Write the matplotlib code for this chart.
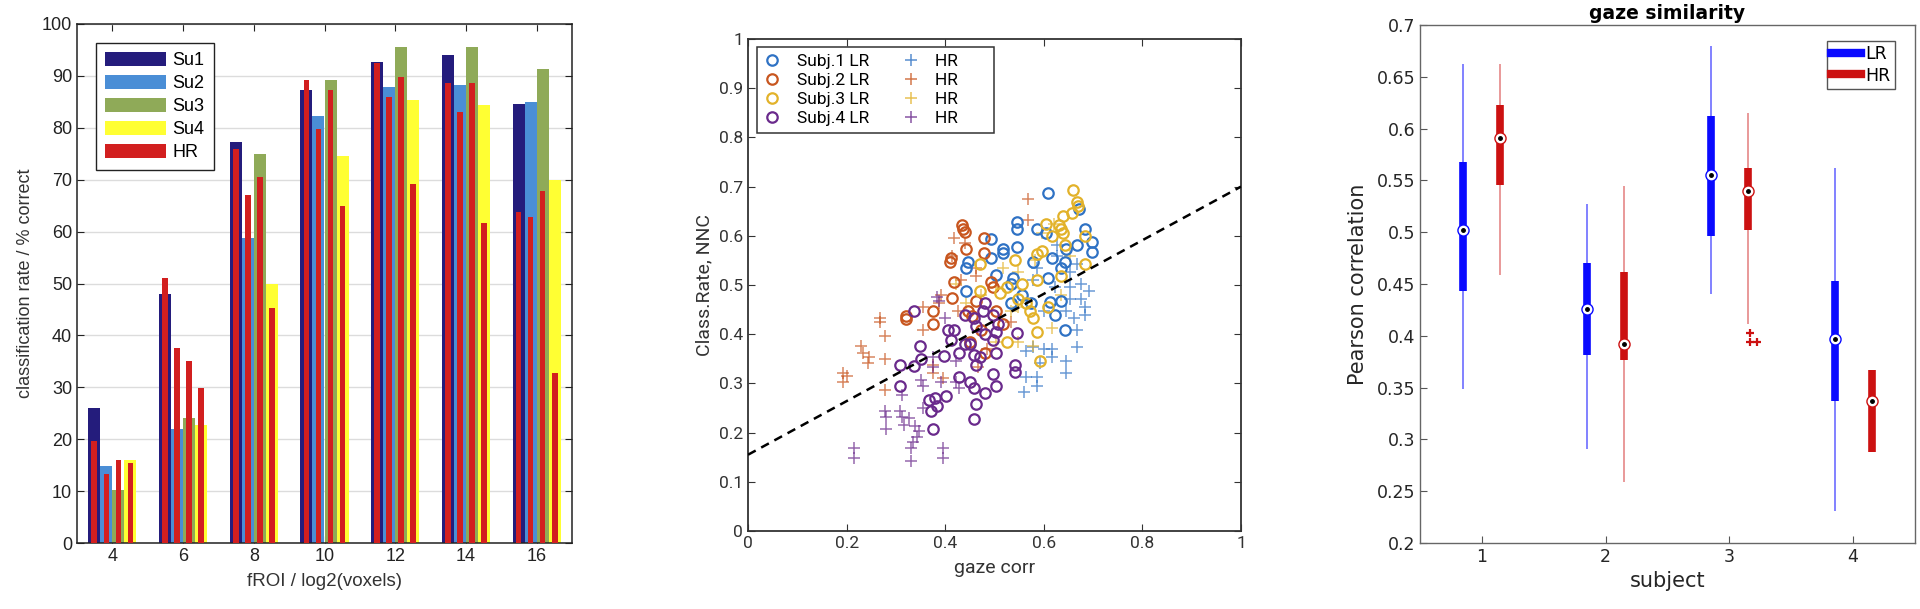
import matplotlib
matplotlib.use("Agg")
import matplotlib.pyplot as plt
import numpy as np
from matplotlib.patches import Patch
from matplotlib.lines import Line2D

# ---------------- data: left panel (bars) ----------------
froi = [4, 6, 8, 10, 12, 14, 16]
subjects = ["Su1", "Su2", "Su3", "Su4"]
su1_lr = [26.0, 48.0, 77.3, 87.2, 92.7, 94.1, 84.5]
su2_lr = [14.8, 22.0, 58.7, 82.2, 87.8, 88.3, 85.0]
su3_lr = [10.3, 24.0, 75.0, 89.2, 95.5, 95.6, 91.3]
su4_lr = [16.0, 22.7, 50.0, 74.6, 85.3, 84.3, 70.0]
su1_hr = [19.7, 51.0, 76.0, 89.3, 92.5, 88.7, 63.7]
su2_hr = [13.2, 37.5, 67.0, 79.8, 86.0, 83.0, 62.8]
su3_hr = [16.0, 35.0, 70.5, 87.3, 89.7, 88.6, 67.8]
su4_hr = [15.4, 29.8, 45.3, 65.0, 69.2, 61.6, 32.8]

# ---------------- data: middle panel (scatter) ----------------
s1_lr_x = [0.608, 0.545, 0.545, 0.586, 0.604, 0.683, 0.698, 0.698, 0.668, 0.671, 0.492, 0.518, 0.518,
           0.545, 0.447, 0.442, 0.443, 0.492, 0.503, 0.537, 0.533, 0.578, 0.616, 0.608, 0.634, 0.642,
           0.646, 0.612, 0.634, 0.623, 0.642, 0.575, 0.556, 0.533]
s1_lr_y = [0.687, 0.628, 0.614, 0.614, 0.606, 0.614, 0.588, 0.568, 0.582, 0.655, 0.594, 0.574, 0.566,
           0.578, 0.547, 0.535, 0.487, 0.554, 0.521, 0.515, 0.503, 0.547, 0.554, 0.515, 0.535, 0.547,
           0.574, 0.465, 0.468, 0.440, 0.408, 0.464, 0.479, 0.464]
s1_hr_x = [0.627, 0.627, 0.653, 0.668, 0.676, 0.691, 0.683, 0.683, 0.653, 0.646, 0.661, 0.668, 0.668,
           0.646, 0.646, 0.616, 0.616, 0.601, 0.593, 0.578, 0.563, 0.586, 0.563, 0.586, 0.560, 0.578,
           0.586, 0.623, 0.601, 0.653, 0.676]
s1_hr_y = [0.582, 0.558, 0.527, 0.543, 0.503, 0.487, 0.456, 0.440, 0.472, 0.448, 0.432, 0.408, 0.375,
           0.345, 0.322, 0.369, 0.353, 0.369, 0.341, 0.373, 0.365, 0.314, 0.314, 0.294, 0.282, 0.511,
           0.535, 0.495, 0.448, 0.495, 0.472]
s2_lr_x = [0.434, 0.437, 0.440, 0.478, 0.443, 0.478, 0.411, 0.410, 0.417, 0.413, 0.320, 0.320, 0.376,
           0.376, 0.462, 0.492, 0.496, 0.503, 0.518, 0.447, 0.455, 0.473, 0.481, 0.451]
s2_lr_y = [0.621, 0.614, 0.607, 0.596, 0.574, 0.566, 0.554, 0.547, 0.507, 0.473, 0.431, 0.436, 0.448,
           0.420, 0.468, 0.507, 0.495, 0.448, 0.420, 0.448, 0.436, 0.408, 0.361, 0.385]
s2_hr_x = [0.567, 0.567, 0.417, 0.440, 0.413, 0.432, 0.462, 0.462, 0.391, 0.387, 0.354, 0.267, 0.267,
           0.277, 0.230, 0.234, 0.246, 0.243, 0.277, 0.193, 0.200, 0.193, 0.277, 0.354, 0.376, 0.376,
           0.395, 0.425, 0.466, 0.484, 0.533]
s2_hr_y = [0.674, 0.633, 0.596, 0.586, 0.558, 0.511, 0.519, 0.535, 0.479, 0.464, 0.456, 0.432, 0.424,
           0.397, 0.377, 0.361, 0.353, 0.341, 0.349, 0.322, 0.315, 0.302, 0.286, 0.408, 0.338, 0.322,
           0.310, 0.448, 0.334, 0.369, 0.424]
s3_lr_x = [0.659, 0.668, 0.670, 0.657, 0.638, 0.604, 0.631, 0.634, 0.638, 0.642, 0.683, 0.683, 0.586,
           0.597, 0.541, 0.470, 0.470, 0.511, 0.556, 0.586, 0.526, 0.548, 0.571, 0.578, 0.586, 0.593,
           0.563, 0.608, 0.634, 0.526, 0.616]
s3_lr_y = [0.694, 0.669, 0.661, 0.647, 0.641, 0.623, 0.621, 0.614, 0.606, 0.582, 0.599, 0.543, 0.562,
           0.570, 0.550, 0.543, 0.487, 0.483, 0.503, 0.511, 0.495, 0.472, 0.448, 0.432, 0.405, 0.345,
           0.464, 0.456, 0.519, 0.385, 0.600]
s3_hr_x = [0.620, 0.597, 0.582, 0.548, 0.548, 0.533, 0.503, 0.421, 0.443, 0.473, 0.503, 0.616, 0.578,
           0.548, 0.634, 0.653, 0.518]
s3_hr_y = [0.625, 0.606, 0.550, 0.527, 0.456, 0.448, 0.385, 0.503, 0.464, 0.479, 0.495, 0.413, 0.377,
           0.385, 0.479, 0.558, 0.535]
s4_lr_x = [0.337, 0.348, 0.350, 0.309, 0.337, 0.309, 0.367, 0.380, 0.383, 0.372, 0.376, 0.402, 0.398,
           0.406, 0.417, 0.412, 0.440, 0.451, 0.428, 0.428, 0.451, 0.458, 0.462, 0.458, 0.481, 0.503,
           0.496, 0.462, 0.470, 0.458, 0.503, 0.496, 0.481, 0.440, 0.462, 0.477, 0.481, 0.496, 0.503,
           0.545, 0.541, 0.541, 0.458, 0.507]
s4_lr_y = [0.448, 0.377, 0.349, 0.338, 0.336, 0.294, 0.267, 0.270, 0.255, 0.243, 0.207, 0.274, 0.355,
           0.408, 0.408, 0.389, 0.381, 0.381, 0.361, 0.314, 0.302, 0.290, 0.259, 0.227, 0.281, 0.294,
           0.320, 0.338, 0.353, 0.357, 0.361, 0.389, 0.401, 0.440, 0.416, 0.448, 0.464, 0.440, 0.405,
           0.402, 0.338, 0.323, 0.432, 0.420]
s4_hr_x = [0.383, 0.387, 0.215, 0.215, 0.277, 0.280, 0.279, 0.309, 0.312, 0.327, 0.316, 0.339, 0.346,
           0.342, 0.335, 0.330, 0.331, 0.395, 0.395, 0.312, 0.350, 0.354, 0.376, 0.376, 0.391, 0.421,
           0.421, 0.354, 0.400, 0.428]
s4_hr_y = [0.476, 0.468, 0.168, 0.148, 0.244, 0.231, 0.207, 0.243, 0.231, 0.229, 0.216, 0.213, 0.203,
           0.192, 0.180, 0.168, 0.142, 0.168, 0.148, 0.276, 0.306, 0.294, 0.353, 0.334, 0.302, 0.345,
           0.302, 0.251, 0.432, 0.290]
fit_x = [0.0, 1.0]
fit_y = [0.155, 0.700]

# ---------------- data: right panel (compact boxplots) ----------------
subj_ids = [1, 2, 3, 4]
lr_wlo = [0.349, 0.291, 0.440, 0.231]
lr_q1 = [0.443, 0.381, 0.496, 0.337]
lr_med = [0.502, 0.426, 0.555, 0.397]
lr_q3 = [0.568, 0.470, 0.612, 0.453]
lr_whi = [0.662, 0.527, 0.680, 0.562]
hr_wlo = [0.459, 0.259, 0.411, 0.288]
hr_q1 = [0.546, 0.377, 0.502, 0.288]
hr_med = [0.591, 0.392, 0.540, 0.337]
hr_q3 = [0.623, 0.462, 0.562, 0.367]
hr_whi = [0.662, 0.545, 0.615, 0.367]
hr_out_x = [3.17, 3.17, 3.22]
hr_out_y = [0.403, 0.394, 0.394]

# ---------------- figure ----------------
fig = plt.figure(figsize=(19.2, 6.09), dpi=100)

# ===== left panel =====
axL = fig.add_axes([77/1920, 1-543/609, 495/1920, 519/609])
sub_cols = ["#241c7c", "#4a8ed6", "#8faa58", "#ffff33"]
hr_col = "#d21f1f"
lr_vals = [su1_lr, su2_lr, su3_lr, su4_lr]
hr_vals = [su1_hr, su2_hr, su3_hr, su4_hr]
bw = 0.34
x = np.array(froi, dtype=float)
for i in range(4):
    off = (i - 1.5) * bw
    axL.bar(x + off, lr_vals[i], width=bw, color=sub_cols[i], edgecolor="none", zorder=2)
    axL.bar(x + off, hr_vals[i], width=0.16, color=hr_col, edgecolor="none", zorder=3)
axL.set_xlim(3, 17)
axL.set_ylim(0, 100)
axL.set_xticks(froi)
axL.set_yticks(np.arange(0, 101, 10))
axL.yaxis.grid(True, color="#dcdcdc", linewidth=1.0, zorder=0)
axL.set_axisbelow(True)
axL.tick_params(direction="in", top=True, right=True, length=5, labelsize=13, colors="#222222")
for s in axL.spines.values():
    s.set_color("#222222"); s.set_linewidth(1.1)
for lab in axL.get_xticklabels() + axL.get_yticklabels():
    lab.set_fontfamily("Liberation Sans")
axL.set_xlabel("fROI / log2(voxels)", fontsize=13.5, family="Liberation Sans", color="#333333", labelpad=6)
axL.set_ylabel("classification rate / % correct", fontsize=13, family="Liberation Sans", color="#333333", labelpad=6)
handles = [Patch(facecolor=c, edgecolor="none") for c in sub_cols] + [Patch(facecolor=hr_col, edgecolor="none")]
legL = axL.legend(handles, subjects + ["HR"], loc="upper left", bbox_to_anchor=(0.038, 0.963), borderaxespad=0,
                  prop={"family": "Liberation Sans", "size": 13}, handlelength=3.4, handleheight=0.8,
                  labelspacing=0.32, fancybox=False, edgecolor="#222222", framealpha=1, handletextpad=0.35,
                  borderpad=0.5)
legL.get_frame().set_linewidth(1.0)

# ===== middle panel =====
axM = fig.add_axes([748/1920, 1-531/609, 493/1920, 492/609])
mcols = ["#2f72c4", "#c8561f", "#e2b22a", "#6a2a8c"]
lr_sets = [(s1_lr_x, s1_lr_y), (s2_lr_x, s2_lr_y), (s3_lr_x, s3_lr_y), (s4_lr_x, s4_lr_y)]
hr_sets = [(s1_hr_x, s1_hr_y), (s2_hr_x, s2_hr_y), (s3_hr_x, s3_hr_y), (s4_hr_x, s4_hr_y)]
for k in range(4):
    axM.plot(hr_sets[k][0], hr_sets[k][1], linestyle="none", marker="+", markersize=8.5, mew=1.1,
             color=mcols[k], alpha=0.7, zorder=2)
for k in range(4):
    axM.plot(lr_sets[k][0], lr_sets[k][1], linestyle="none", marker="o", markersize=7.5, mew=1.6,
             mfc="none", mec=mcols[k], zorder=3)
axM.plot(fit_x, fit_y, linestyle=(0, (3.5, 2.5)), color="black", linewidth=1.8, zorder=4)
axM.set_xlim(0, 1)
axM.set_ylim(0, 1)
axM.set_xticks([0, 0.2, 0.4, 0.6, 0.8, 1])
axM.set_xticklabels(["0", "0.2", "0.4", "0.6", "0.8", "1"])
axM.set_yticks(np.arange(0, 1.01, 0.1))
axM.set_yticklabels(["0", "0.1", "0.2", "0.3", "0.4", "0.5", "0.6", "0.7", "0.8", "0.9", "1"])
axM.tick_params(direction="in", top=True, right=True, length=5, labelsize=12.5, colors="#333333")
for s in axM.spines.values():
    s.set_color("#333333"); s.set_linewidth(1.3)
for lab in axM.get_xticklabels() + axM.get_yticklabels():
    lab.set_fontfamily("Roboto")
axM.set_xlabel("gaze corr", fontsize=14, family="Roboto", color="#333333", labelpad=6)
axM.set_ylabel("Class.Rate, NNC", fontsize=14, family="Roboto", color="#333333", labelpad=4)
mh = []
ml = []
for k in range(4):
    mh.append(Line2D([], [], linestyle="none", marker="o", markersize=7.5, mew=1.6, mfc="none", mec=mcols[k]))
    ml.append(f"Subj.{k+1} LR")
for k in range(4):
    mh.append(Line2D([], [], linestyle="none", marker="+", markersize=8.5, mew=1.1, color=mcols[k], alpha=0.8))
    ml.append("HR" + "\u2007" * 3)
legM = axM.legend(mh, ml, ncol=2, loc="upper left", bbox_to_anchor=(0.018, 0.984), borderaxespad=0,
                  prop={"family": "Roboto", "size": 12.5}, fancybox=False, edgecolor="#333333", framealpha=1,
                  labelspacing=0.22, columnspacing=1.9, handletextpad=0.9, handlelength=1.0, borderpad=0.4)
legM.get_frame().set_linewidth(1.1)

# ===== right panel =====
axR = fig.add_axes([1420/1920, 1-543/609, 495/1920, 518/609])
bl = "#0a0aff"
rd = "#cc1111"
sid = np.array(subj_ids, dtype=float)
lr_pos = sid - 0.15
hr_pos = sid + 0.15
axR.vlines(lr_pos, lr_wlo, lr_whi, color=bl, alpha=0.6, linewidth=1.2, zorder=2)
axR.vlines(hr_pos, hr_wlo, hr_whi, color=rd, alpha=0.5, linewidth=1.2, zorder=2)
axR.vlines(lr_pos, lr_q1, lr_q3, color=bl, linewidth=5.5, zorder=3)
axR.vlines(hr_pos, hr_q1, hr_q3, color=rd, linewidth=5.5, zorder=3)
axR.plot(lr_pos, lr_med, linestyle="none", marker="o", markersize=8, mfc="white", mec=bl, mew=1.0, zorder=4)
axR.plot(hr_pos, hr_med, linestyle="none", marker="o", markersize=8, mfc="white", mec=rd, mew=1.0, zorder=4)
axR.plot(lr_pos, lr_med, linestyle="none", marker="o", markersize=2.5, color="black", zorder=5)
axR.plot(hr_pos, hr_med, linestyle="none", marker="o", markersize=2.5, color="black", zorder=5)
axR.plot(hr_out_x, hr_out_y, linestyle="none", marker="+", markersize=6, mew=1.6, color=rd, zorder=4)
axR.set_xlim(0.5, 4.5)
axR.set_ylim(0.2, 0.7)
axR.set_xticks(subj_ids)
axR.set_yticks(np.arange(0.2, 0.701, 0.05))
axR.set_yticklabels(["0.2", "0.25", "0.3", "0.35", "0.4", "0.45", "0.5", "0.55", "0.6", "0.65", "0.7"])
axR.tick_params(direction="in", top=False, right=False, length=5, labelsize=12.5, colors="#555555",
                labelcolor="#262626")
for s in axR.spines.values():
    s.set_color("#666666"); s.set_linewidth(1.0)
for lab in axR.get_xticklabels() + axR.get_yticklabels():
    lab.set_fontfamily("DejaVu Sans")
axR.set_xlabel("subject", fontsize=15, family="DejaVu Sans", color="#262626", labelpad=4)
axR.set_ylabel("Pearson correlation", fontsize=15, family="DejaVu Sans", color="#262626", labelpad=6)
axR.set_title("gaze similarity", fontsize=13.5, fontweight="bold", family="DejaVu Sans", pad=4)
rh = [Line2D([], [], color=bl, linewidth=6), Line2D([], [], color=rd, linewidth=6)]
legR = axR.legend(rh, ["LR", "HR"], loc="upper right", bbox_to_anchor=(0.96, 0.969), borderaxespad=0,
                  prop={"family": "DejaVu Sans", "size": 12.5}, fancybox=False, edgecolor="#555555",
                  framealpha=1, handlelength=1.75, handletextpad=0.25, labelspacing=0.18, borderpad=0.25)
legR.get_frame().set_linewidth(1.0)

fig.savefig("out.png", dpi=100, facecolor="white")
